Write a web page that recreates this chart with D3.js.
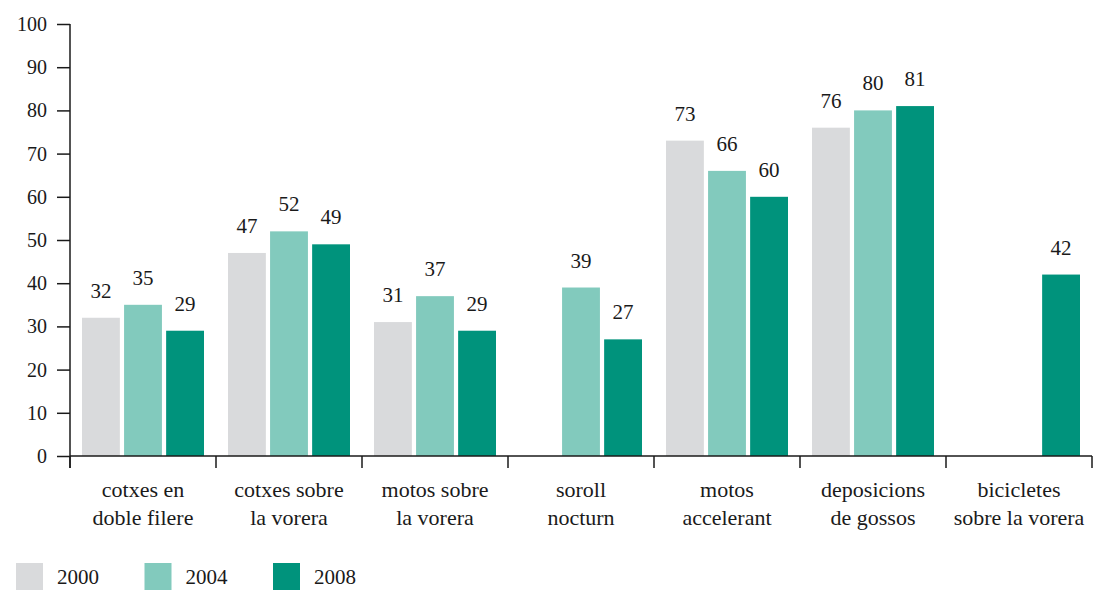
<!DOCTYPE html>
<html>
<head>
<meta charset="utf-8">
<script src="https://cdn.jsdelivr.net/npm/d3@7"></script>
<style>
  body { margin: 0; background: #fff; }
  svg text { font-family: "Liberation Serif", "DejaVu Serif", serif; fill: #1a1a1a; }
  .axis path, .axis line { stroke: #1a1a1a; stroke-width: 1.5; }
</style>
</head>
<body>
<script>
// data
var categories = ["cotxes en doble filere", "cotxes sobre la vorera", "motos sobre la vorera",
  "soroll nocturn", "motos accelerant", "deposicions de gossos", "bicicletes sobre la vorera"];
var categoryLines = [
  ["cotxes en", "doble filere"],
  ["cotxes sobre", "la vorera"],
  ["motos sobre", "la vorera"],
  ["soroll", "nocturn"],
  ["motos", "accelerant"],
  ["deposicions", "de gossos"],
  ["bicicletes", "sobre la vorera"]
];
var years = ["2000", "2004", "2008"];
var values2000 = [32, 47, 31, null, 73, 76, null];
var values2004 = [35, 52, 37, 39, 66, 80, null];
var values2008 = [29, 49, 29, 27, 60, 81, 42];
var yTicks = [0, 10, 20, 30, 40, 50, 60, 70, 80, 90, 100];
var colors = ["#d9dadc", "#82cabd", "#00937c"];

var width = 1096, height = 590;
var margin = {top: 24, left: 70, right: 4, bottom: 134};

var series = [values2000, values2004, values2008];

var svg = d3.select("body").append("svg")
    .attr("width", width)
    .attr("height", height);

var x = d3.scaleBand()
    .domain(categories)
    .range([margin.left, width - margin.right])
    .padding(0);

var xSub = d3.scaleBand()
    .domain(years)
    .range([12, x.bandwidth() - 12])
    .paddingInner(0.1);

var y = d3.scaleLinear()
    .domain([0, 100])
    .range([height - margin.bottom, margin.top]);

var color = d3.scaleOrdinal().domain(years).range(colors);

/* ---- bars ---- */
var rows = [];
categories.forEach(function(c, i) {
  years.forEach(function(yr, j) {
    if (series[j][i] != null) rows.push({cat: c, year: yr, value: series[j][i]});
  });
});

var bars = svg.append("g");
bars.selectAll("rect")
  .data(rows)
  .enter().append("rect")
    .attr("x", d => x(d.cat) + xSub(d.year))
    .attr("y", d => y(d.value))
    .attr("width", xSub.bandwidth())
    .attr("height", d => y(0) - y(d.value))
    .attr("fill", d => color(d.year));

bars.selectAll("text")
  .data(rows)
  .enter().append("text")
    .attr("x", d => x(d.cat) + xSub(d.year) + xSub.bandwidth() / 2)
    .attr("y", d => y(d.value) - 20)
    .attr("text-anchor", "middle")
    .style("font-size", "21px")
    .text(d => d.value);

/* ---- y axis ---- */
var yAxis = svg.append("g")
    .attr("class", "axis")
    .attr("transform", "translate(" + margin.left + ",0)")
    .call(d3.axisLeft(y).tickValues(yTicks).tickSize(13).tickSizeOuter(0).tickPadding(10));
yAxis.select(".domain").remove();
yAxis.selectAll("text").style("font-size", "20px");
yAxis.append("line")
    .attr("x1", 0).attr("x2", 0)
    .attr("y1", y(100)).attr("y2", y(0) + 12);

/* ---- x axis ---- */
var xAxis = svg.append("g").attr("class", "axis");
xAxis.append("line")
    .attr("x1", x.range()[0]).attr("x2", x.range()[1])
    .attr("y1", y(0)).attr("y2", y(0));
var edges = categories.map(c => x(c)).concat([x.range()[1]]);
xAxis.selectAll(".sep")
  .data(edges)
  .enter().append("line")
    .attr("class", "sep")
    .attr("x1", d => d).attr("x2", d => d)
    .attr("y1", y(0)).attr("y2", y(0) + 12);

var labels = svg.append("g").selectAll("text")
  .data(categories)
  .enter().append("text")
    .attr("text-anchor", "middle")
    .attr("transform", d => "translate(" + (x(d) + x.bandwidth() / 2) + "," + (y(0) + 41) + ")")
    .style("font-size", "22px");
labels.selectAll("tspan")
  .data((d, i) => categoryLines[i])
  .enter().append("tspan")
    .attr("x", 0)
    .attr("dy", (d, i) => i === 0 ? 0 : 28)
    .text(d => d);

/* ---- legend ---- */
var legend = svg.append("g").selectAll("g")
  .data(years)
  .enter().append("g")
    .attr("transform", (d, i) => "translate(" + (16 + i * 128.5) + ",563)");
legend.append("rect")
    .attr("width", 27).attr("height", 27)
    .attr("fill", d => color(d));
legend.append("text")
    .attr("x", 41).attr("y", 21)
    .style("font-size", "21px")
    .text(d => d);
</script>
</body>
</html>
